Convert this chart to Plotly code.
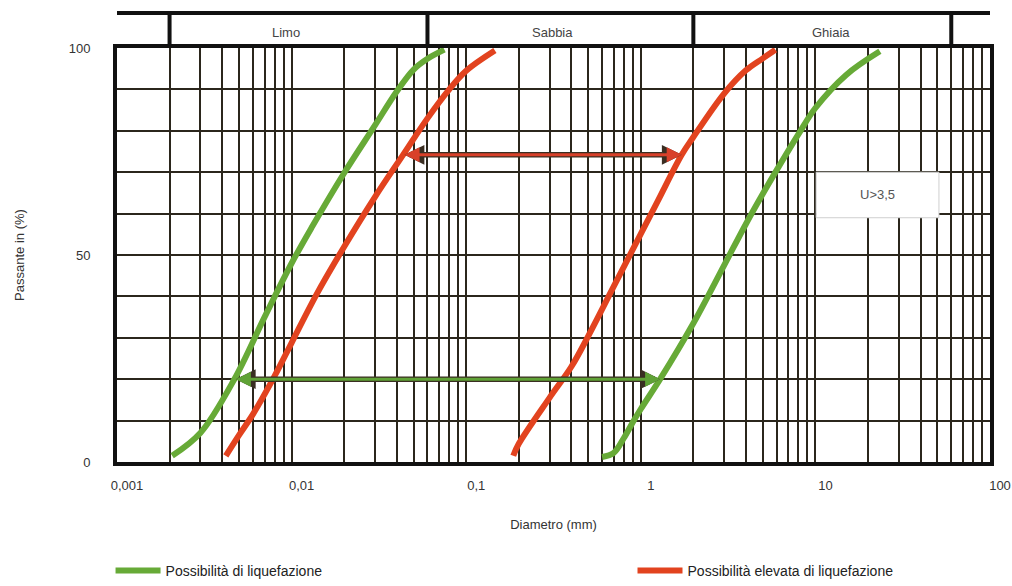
import numpy as np
import plotly.graph_objects as go

# ---------------- data ----------------
green_left_x = [0.00207, 0.003, 0.0047, 0.007, 0.01, 0.0131, 0.02, 0.03, 0.04, 0.05, 0.06, 0.075]
green_left_y = [1.5, 7, 20, 35, 48, 56.8, 69.8, 81.3, 89.5, 94.8, 97.4, 99.6]

red_left_x = [0.0042, 0.005, 0.006, 0.008, 0.01, 0.0139, 0.02, 0.03, 0.0435, 0.06, 0.08, 0.1, 0.146]
red_left_y = [1.5, 6.5, 11.5, 20.8, 28.8, 40.5, 52, 64, 74.2, 83, 90, 94.5, 99.4]

red_right_x = [0.186, 0.2, 0.3, 0.4, 0.5, 0.7, 1.0, 1.25, 1.715, 2, 3, 4, 5, 5.9]
red_right_y = [1.5, 4.4, 15.5, 23, 30.4, 42.4, 55.1, 63, 74.2, 78.5, 89, 94.6, 97.5, 99.6]

green_right_x = [0.6, 0.7, 0.8, 0.9, 1.0, 1.29, 2, 3, 4, 5, 6, 8, 10, 15, 23.4]
green_right_y = [1.2, 2.2, 5.8, 9.6, 12.8, 20, 33.5, 47.5, 57.5, 64.8, 70.5, 79.2, 85.5, 93.5, 99.2]

series_names = ["Possibilità di liquefazione", "Possibilità elevata di liquefazione"]

# double arrows: y level, from x, to x
arrow_y = [74.2, 20]
arrow_from = [0.0435, 0.0047]
arrow_to = [1.715, 1.29]

# soil classes (band on top)
class_names = ["Limo", "Sabbia", "Ghiaia"]
class_bounds = [0.002, 0.06, 2, 60]

x_tick_labels = ["0,001", "0,01", "0,1", "1", "10", "100"]
y_tick_labels = {0: "0", 50: "50", 100: "100"}

box_text = "U>3,5"
box_x = [10.1, 51]
box_y = [59, 70]

# ---------------- styles ----------------
GREEN = "#67aa37"
RED = "#e2431f"
GRID = "#2b261c"
FONT = "Liberation Sans, Arial, sans-serif"

fig = go.Figure()
fig.add_trace(go.Scatter(x=green_left_x, y=green_left_y, mode="lines", name=series_names[0],
                         line=dict(color=GREEN, width=6, shape="spline", smoothing=1),
                         legendgroup="g", legend="legend"))
fig.add_trace(go.Scatter(x=green_right_x, y=green_right_y, mode="lines", name=series_names[0],
                         line=dict(color=GREEN, width=6, shape="spline", smoothing=1),
                         legendgroup="g", showlegend=False))
fig.add_trace(go.Scatter(x=red_left_x, y=red_left_y, mode="lines", name=series_names[1],
                         line=dict(color=RED, width=6, shape="spline", smoothing=1),
                         legendgroup="r", legend="legend2"))
fig.add_trace(go.Scatter(x=red_right_x, y=red_right_y, mode="lines", name=series_names[1],
                         line=dict(color=RED, width=6, shape="spline", smoothing=1),
                         legendgroup="r", showlegend=False, legend="legend2"))

# axis ticks / grid
xt_vals, xt_text = [], []
for e in range(-3, 2):
    for m in range(1, 10):
        xt_vals.append(m * 10.0 ** e)
        xt_text.append(x_tick_labels[e + 3] if m == 1 else "")
xt_vals.append(100.0)
xt_text.append(x_tick_labels[-1])

yt_vals = list(range(0, 101, 10))
yt_text = [y_tick_labels.get(v, "") for v in yt_vals]

annotations = []
shapes = []

# arrows (dark outline under, colour on top)
arrow_cols = ["#d8402a", "#5fa236"]
for yv, xf, xt, col in zip(arrow_y, arrow_from, arrow_to, arrow_cols):
    for w, s, c in [(5.5, 0.72, "#3a2e22"), (3, 1.0, col)]:
        annotations.append(dict(x=np.log10(xt), y=yv, ax=np.log10(xf), ay=yv, xref="x", yref="y",
                                axref="x", ayref="y", text="", showarrow=True, arrowside="end+start",
                                arrowhead=2, startarrowhead=2, arrowwidth=w, arrowsize=s,
                                startarrowsize=s, arrowcolor=c, standoff=0, startstandoff=0))

# top class band
BAND_Y = 1.0845
shapes.append(dict(type="line", xref="paper", yref="paper", x0=0, x1=1, y0=BAND_Y, y1=BAND_Y,
                   line=dict(color="#111", width=4)))
for b in class_bounds:
    shapes.append(dict(type="line", xref="x", yref="paper", x0=b, x1=b,
                       y0=1, y1=BAND_Y, line=dict(color="#111", width=4)))
for i, name in enumerate(class_names):
    c = np.sqrt(class_bounds[i] * class_bounds[i + 1])
    annotations.append(dict(x=np.log10(c), y=1.037, xref="x", yref="paper", yanchor="middle",
                            text=name, showarrow=False, xshift=[-13, -8, 9][i],
                            font=dict(family=FONT, size=13, color="#444")))

# U box
shapes.append(dict(type="rect", xref="x", yref="y", x0=box_x[0], x1=box_x[1],
                   y0=box_y[0], y1=box_y[1], fillcolor="white", line=dict(color="#cfcfcf", width=1),
                   layer="above"))
annotations.append(dict(x=np.log10(np.sqrt(box_x[0] * box_x[1])), y=sum(box_y) / 2, xref="x", yref="y",
                        text=box_text, showarrow=False, font=dict(family=FONT, size=13, color="#555")))

legend_common = dict(orientation="h", yanchor="middle", y=-0.263, xanchor="left", itemwidth=45,
                     font=dict(family=FONT, size=14, color="#222"), bgcolor="rgba(0,0,0,0)")

fig.update_layout(
    width=1012, height=586,
    margin=dict(l=117, r=22, t=48, b=124, autoexpand=False),
    paper_bgcolor="white", plot_bgcolor="white",
    font=dict(family=FONT, size=13, color="#333"),
    showlegend=True,
    legend=dict(x=-0.0074, **legend_common),
    legend2=dict(x=0.5905, **legend_common),
    xaxis=dict(type="log", range=[-3, 2], tickvals=xt_vals, ticktext=xt_text, ticks="",
               showgrid=True, gridcolor=GRID, gridwidth=1.5, zeroline=False,
               showline=True, linecolor="#111", linewidth=4, mirror=True, automargin=False,
               ticklabelstandoff=8, ticklabelshift=10,
               tickfont=dict(family=FONT, size=13, color="#333"),
               title=dict(text="Diametro (mm)", font=dict(family=FONT, size=13, color="#333"), standoff=29)),
    yaxis=dict(range=[0, 100], tickvals=yt_vals, ticktext=yt_text, ticks="",
               showgrid=True, gridcolor=GRID, gridwidth=1.5, zeroline=False,
               showline=True, linecolor="#111", linewidth=4, mirror=True, automargin=False,
               ticklabelstandoff=20,
               tickfont=dict(family=FONT, size=13, color="#333"),
               title=dict(text="Passante in (%)", font=dict(family=FONT, size=13, color="#333"), standoff=42)),
    shapes=shapes, annotations=annotations,
)

fig.write_html("out.html", config={"displayModeBar": False},
               post_script="document.body.style.margin='0px';")
